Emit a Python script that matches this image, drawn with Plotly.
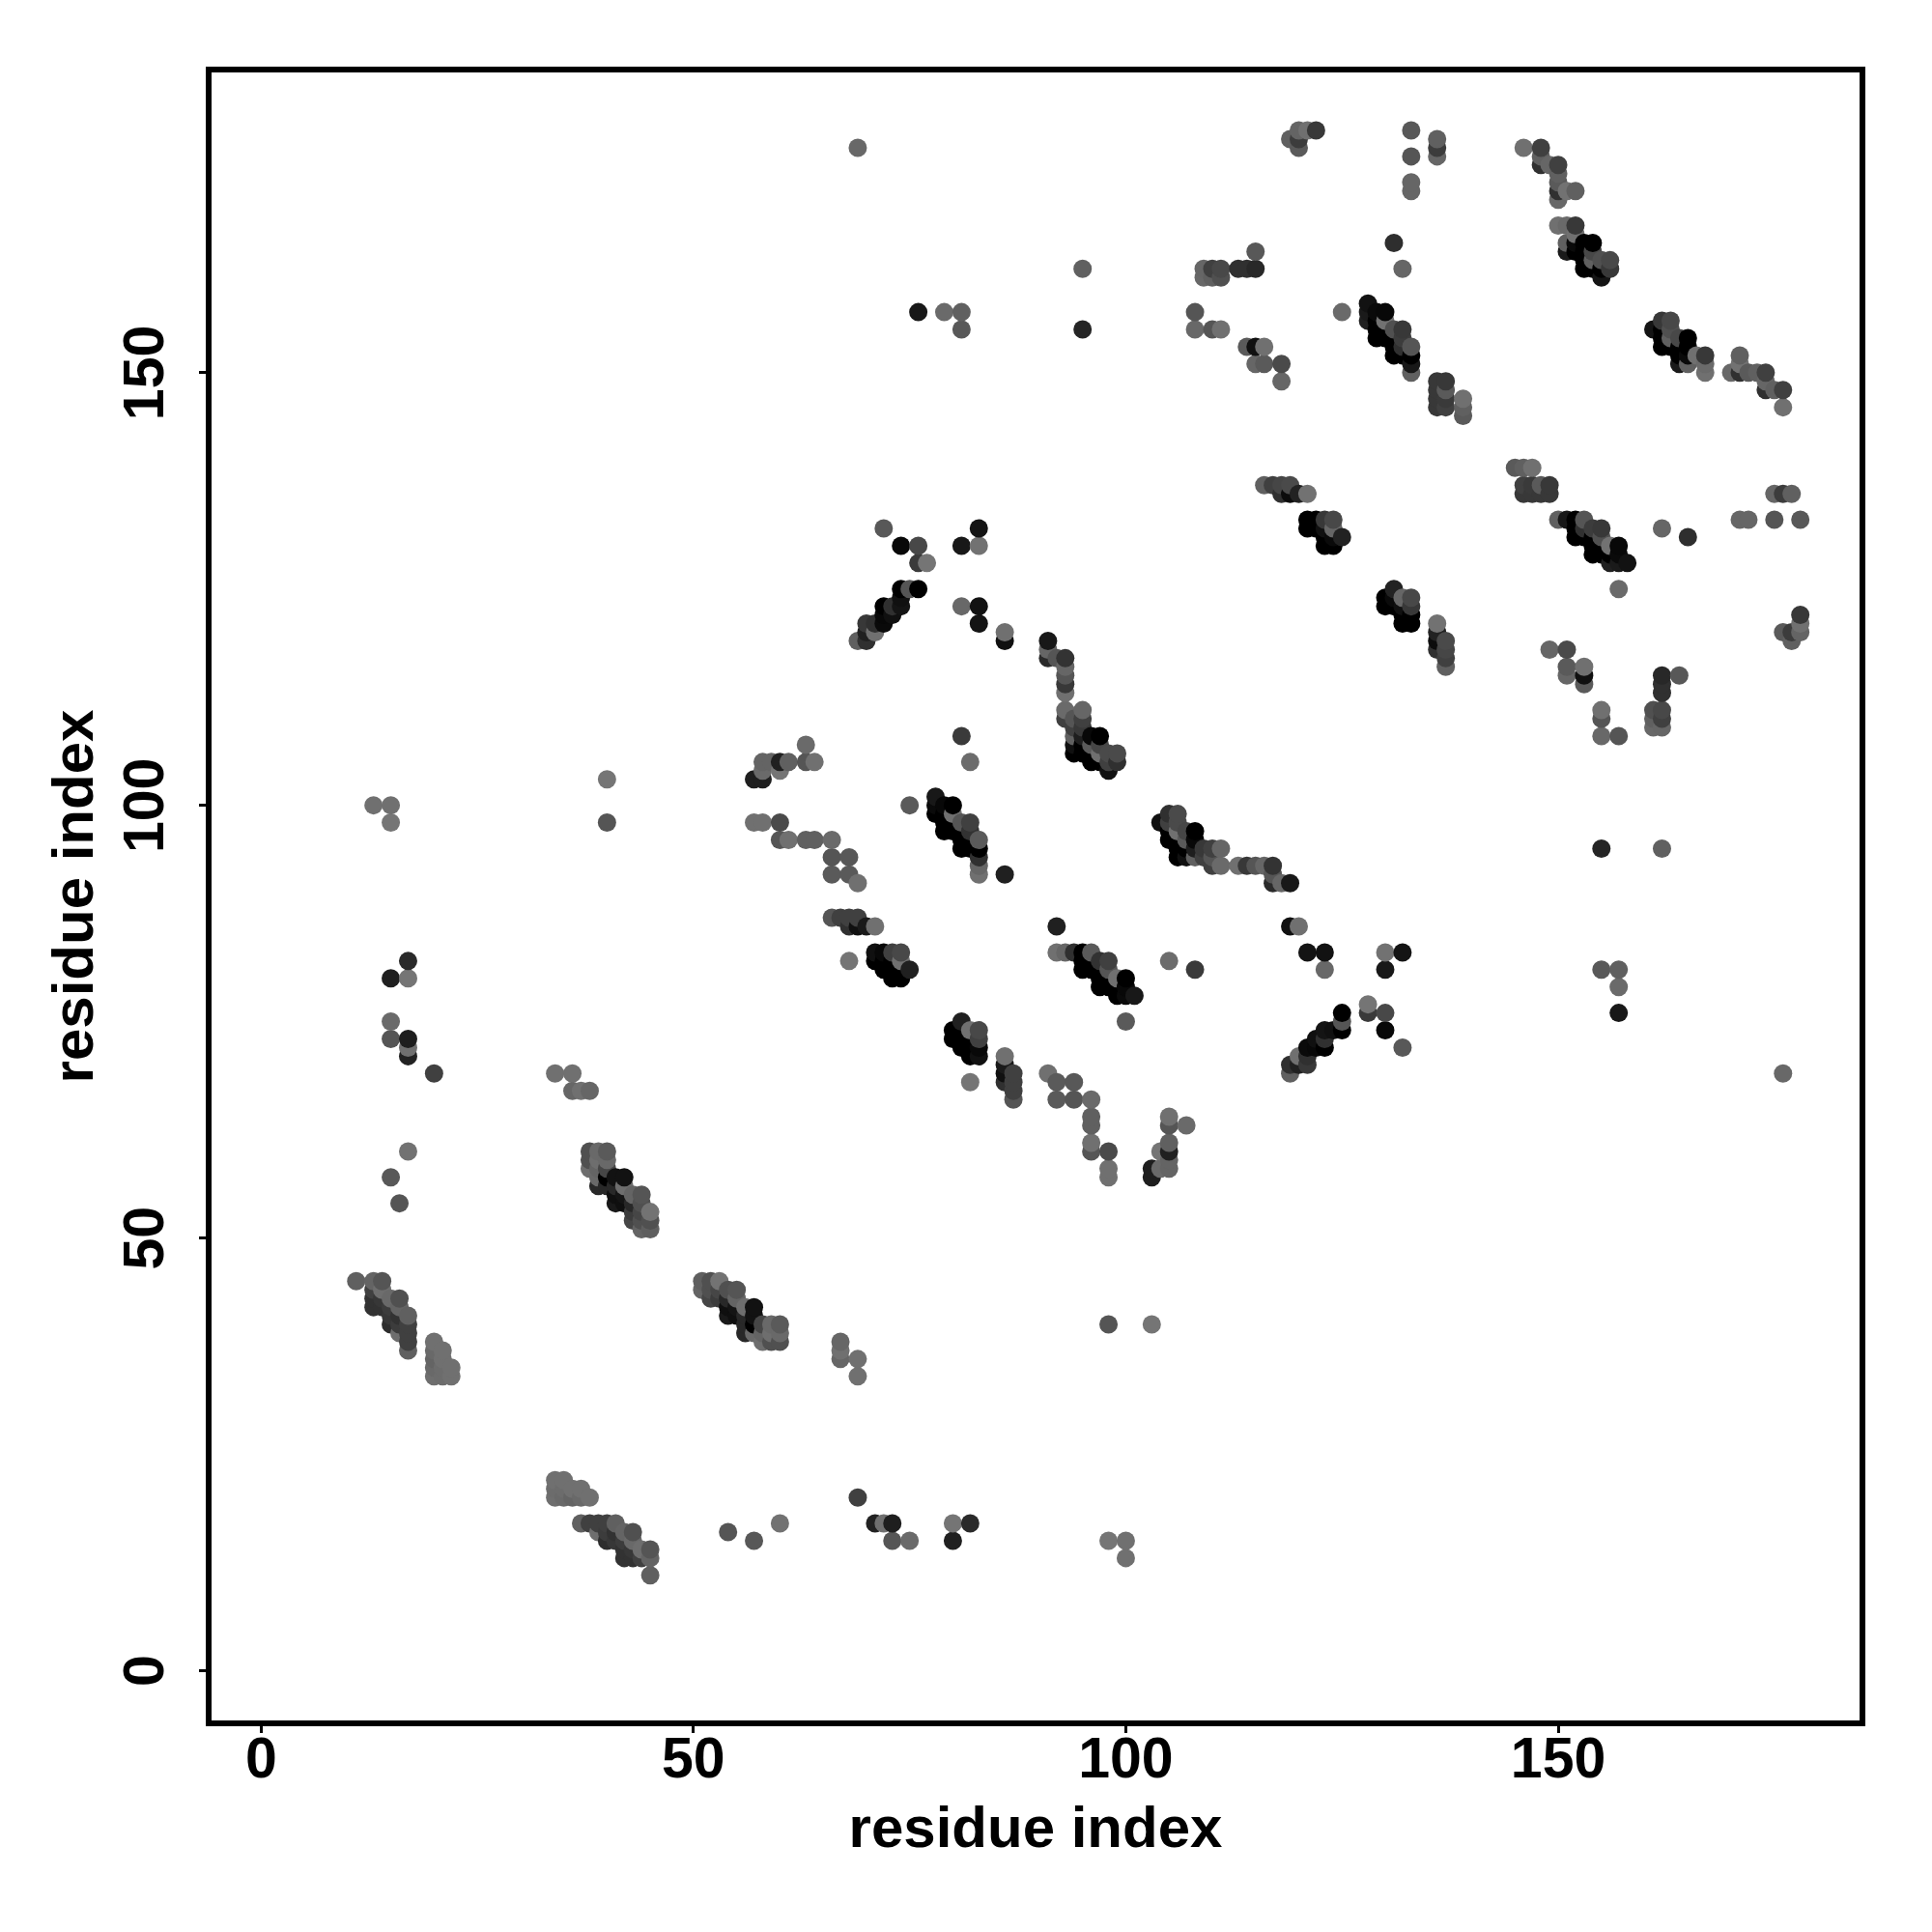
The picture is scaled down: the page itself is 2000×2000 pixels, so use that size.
import plotly.graph_objects as go

# contacts are (residue_i, residue_j, score), i < j; the map is symmetric
band_a = [(11,45,96),(13,45,100),(13,44,64),(13,43,50),(13,42,50),(14,45,85),(14,44,110),(14,43,55),(14,42,50),
          (15,43,105),(15,42,60),(15,41,55),(15,40,45),(16,43,80),(16,42,100),(16,41,50),(16,40,60),(16,39,110),
          (17,41,96),(17,40,64),(17,39,64),(17,38,64),(17,37,96),
          (20,38,112),(20,37,105),(20,36,100),(20,35,105),(20,34,110),(21,37,112),(21,36,112),(21,35,108),(21,34,108),
          (22,35,112),(22,34,112)]
band_b = [(38,58,110),(38,59,80),(38,60,80),(39,56,40),(39,57,105),(39,58,100),(39,59,110),(39,60,105),
          (40,56,40),(40,57,0),(40,58,70),(40,59,105),(40,60,90),(41,54,25),(41,55,15),(41,56,40),(41,57,18),
          (42,54,15),(42,55,20),(42,56,110),(42,57,18),(43,52,70),(43,53,60),(43,54,40),(43,55,100),
          (44,51,100),(44,52,80),(44,53,70),(44,54,80),(44,55,85),(45,51,95),(45,52,80),(45,53,115)]
singles_left = [(13,100,112),(15,100,112),(15,98,117),(17,82,42),(15,80,32),(17,80,117),(15,75,106),(15,73,85),
                (17,73,30),(17,72,112),(17,71,34),(20,69,64),(34,69,112),(36,69,112),(36,67,102),(37,67,112),(38,67,102),
                (17,60,114),(15,57,88),(16,54,85),(40,103,117),(40,98,85)]
band_d = [(63,107,106),(58,105,100),(59,105,100),(60,105,32),(61,105,96),(63,105,85),(64,105,112),(58,104,106),(60,104,117),
          (57,103,30),(58,103,30),(57,98,112),(58,98,112),(60,98,74),(60,96,85),(61,96,112),(63,96,96),(64,96,96),(66,96,106),
          (66,94,85),(68,94,88),(66,92,90),(68,92,90),(69,91,112),(66,87,85),(67,87,64),(68,87,64),(69,87,64),
          (68,86,48),(69,86,16),(70,86,26),(71,86,112),(71,83,16),(72,83,8),(73,83,64),(74,83,72),
          (71,82,0),(72,82,0),(73,82,0),(74,82,112),(72,81,0),(73,81,0),(74,81,0),(75,81,32),(73,80,0),(74,80,0),(68,82,117)]
band_e = [(78,101,24),(78,100,10),(78,99,0),(79,100,8),(79,99,0),(79,98,0),(79,97,0),(80,100,0),(80,99,112),(80,98,0),(80,97,0),
          (81,98,85),(81,97,0),(81,96,0),(81,95,0),(82,98,64),(82,97,50),(82,96,0),(82,95,0),
          (83,96,90),(83,95,0),(83,94,48),(83,93,102),(83,92,112),(86,92,32),(75,100,90),(81,108,58),(82,105,108)]
band_f = [(91,119,24),(91,118,102),(91,117,42),(92,117,85),(93,117,51),(93,116,102),(93,115,85),(93,114,56),(93,113,112),
          (93,111,106),(93,110,64),(94,110,85),(94,109,64),(94,108,96),(94,107,16),(94,106,0),
          (95,111,102),(95,110,64),(95,109,56),(95,108,30),(95,107,0),(95,106,0),(96,108,8),(96,107,90),(96,106,0),(96,105,0),
          (97,108,0),(97,107,70),(97,106,112),(97,105,0),(98,106,74),(98,105,64),(98,104,16),(99,106,74),(99,105,48)]
band_i = [(86,119,16),(86,120,112),(83,121,20),(83,123,18),(81,123,104),(83,130,114),(83,132,20),(81,130,24),
          (72,132,88),(74,130,8),(76,130,72),(76,128,58),(77,128,117),(74,125,0),(75,125,85),(76,125,0),(74,124,16),
          (72,123,0),(73,123,48),(74,123,20),(73,122,16),(72,122,8),(72,121,10),(71,121,48),(70,121,56),
          (71,120,112),(70,120,32),(70,119,48),(69,119,96)]
band_j = [(119,177,96),(120,178,100),(121,178,112),(122,178,56),(120,177,60),(120,176,90),
          (133,178,88),(133,175,85),(133,172,102),(133,171,102),(136,177,96),(136,176,60),(136,175,102),
          (115,164,88),(113,162,48),(114,162,48),(115,162,40),(109,162,102),(110,162,64),(111,162,72),
          (109,161,104),(110,161,96),(111,161,80),(108,157,85),(108,155,104),(110,155,85),(111,155,112),
          (114,153,90),(115,153,16),(116,153,112),(115,151,102),(116,151,90),(118,151,74),(118,149,102),
          (76,157,24),(79,157,106),(81,157,96),(81,155,88),(95,162,96),(95,155,37),(69,176,104),
          (125,157,106),(131,165,46),(132,162,102)]
band_k = [(128,158,18),(128,157,26),(128,156,32),(129,157,10),(129,156,0),(129,155,0),(129,154,0),
          (130,157,8),(130,156,114),(130,155,0),(130,154,0),(131,155,80),(131,154,0),(131,153,0),(131,152,0),
          (132,155,56),(132,154,60),(132,153,48),(132,152,0),(133,153,85),(133,152,0),(133,151,24),(133,150,96),
          (136,149,56),(137,149,56),(136,148,56),(137,148,90),(136,147,56),(137,147,58),(136,146,56),(137,146,64),
          (139,147,112),(139,146,96),(139,145,90)]
band_m = [(121,132,0),(121,133,0),(122,132,0),(122,133,0),(123,130,0),(123,131,0),(123,132,16),(123,133,56),
          (124,130,0),(124,131,10),(124,132,102),(124,133,72),(125,131,34),
          (118,136,48),(119,136,12),(120,136,34),(121,136,114),(116,137,96),(117,137,64),(118,137,70),(119,137,74)]
band_o = [(155,161,20),(156,162,56),(156,163,72),(155,162,0),(155,163,80),(154,162,0),(154,163,96),(154,164,72),(154,165,0),
          (153,162,0),(153,163,0),(153,164,0),(153,165,0),(152,164,0),(152,165,10),(152,166,112),(152,167,56),
          (151,164,26),(151,165,96),(151,167,106),(150,167,112)]
band_p = [(152,171,96),(151,171,114),(150,171,48),(150,170,104),(150,172,90),(150,173,96),(150,174,64),(149,174,102),
          (148,174,48),(148,175,96),(148,176,64),(146,176,112)]
tick_values = [0, 50, 100, 150]
axis_title = "residue index"

contacts = {}
for band in (band_a, band_b, singles_left, band_d, band_e, band_f, band_i, band_j, band_k, band_m, band_o, band_p):
    for i, j, s in band:
        contacts[(i, j)] = s
        contacts[(j, i)] = s
order = sorted(contacts)
xs = [p[0] for p in order]
ys = [p[1] for p in order]
cs = [contacts[p] for p in order]

fig = go.Figure(go.Scatter(
    x=xs, y=ys, mode="markers", hoverinfo="skip",
    marker=dict(size=19, color=cs, cmin=0, cmax=120,
                colorscale=[[0, "#000000"], [1, "#787878"]], showscale=False, line=dict(width=0)),
))
title_font = dict(family="Liberation Sans", size=60, color="black", weight="bold")
axis = dict(
    tickmode="array", tickvals=tick_values, ticks="outside", ticklen=7, tickwidth=3, tickcolor="black",
    showgrid=False, zeroline=False, showline=True, mirror=True, linecolor="black", linewidth=5.5,
    tickfont=dict(family="Liberation Sans", size=59, color="black", weight="bold"),
)
fig.update_layout(
    width=2000, height=2000, plot_bgcolor="white", paper_bgcolor="white", showlegend=False,
    margin=dict(l=219, r=74.5, t=75, b=219),
    xaxis=dict(axis, range=[-5.73, 184.85], ticklabelstandoff=-25,
               title=dict(text=axis_title, standoff=20, font=title_font)),
    yaxis=dict(axis, range=[-5.77, 184.7], tickangle=-90, ticklabelstandoff=14, ticklabelshift=9,
               title=dict(text=axis_title, standoff=1.5, font=title_font)),
)
fig.write_html("out.html", config={"displayModeBar": False}, post_script="document.body.style.margin='0';")
